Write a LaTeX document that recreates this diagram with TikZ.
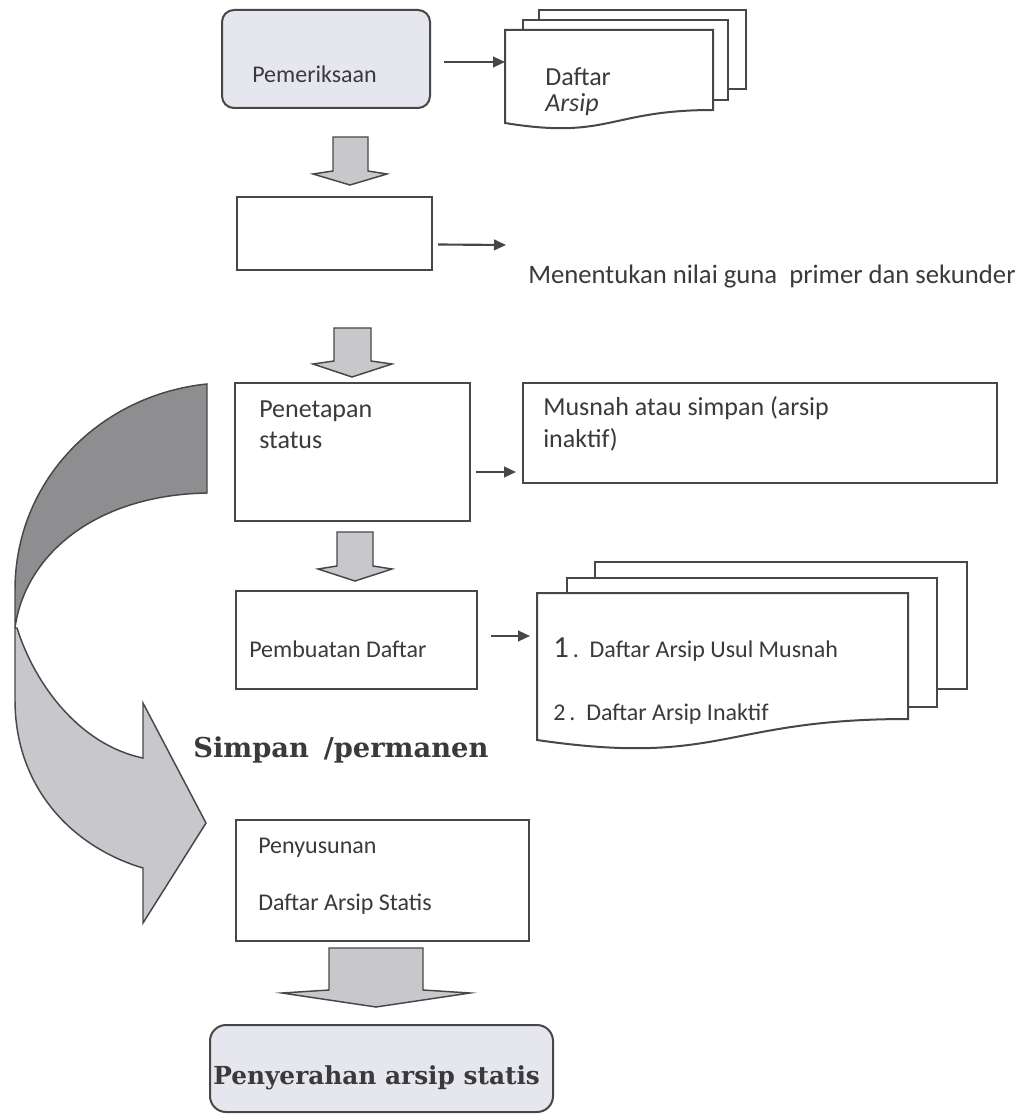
\documentclass[tikz,border=0pt]{standalone}
\usepackage{fontspec}
\newfontfamily\calib{Carlito}
\newfontfamily\bserif{DejaVu Serif}
\usetikzlibrary{arrows.meta,fit,calc}
\definecolor{lc}{HTML}{474747}
\definecolor{tc}{HTML}{3A3A3A}
\definecolor{lav}{HTML}{E6E6EE}
\definecolor{bf}{HTML}{C8C8CC}
\definecolor{dk}{HTML}{8E8E90}
\begin{document}
\begin{tikzpicture}[x=0.75pt,y=-0.75pt,
  box/.style={draw=lc,line width=1.5pt,inner sep=0pt,fill=white},
  rbox/.style={box,rounded corners=9pt,fill=lav},
  page/.style={draw=lc,line width=1.5pt,fill=white},
  txt/.style={font=\calib\fontsize{18}{22}\selectfont,text=tc,inner sep=0pt,anchor=base west},
  txtl/.style={txt,font=\calib\fontsize{19.5}{24}\selectfont},
  btxt/.style={font=\bserif\bfseries\fontsize{18.6}{22}\selectfont,text=tc,inner sep=0pt,anchor=base west},
  arr/.style={draw=lc,line width=1.6pt,-{Triangle[length=9pt,width=8pt]}},
  blk/.style={draw=lc,line width=1.1pt,fill=bf,line join=miter},
  curv/.style={draw=lc,line width=1.1pt}]
\useasboundingbox[fill=white] (0,0) rectangle (1029,1119);

% curved arrow (Simpan / permanen)
\path[curv,fill=dk] (207,384) .. controls (100,395) and (15,480) .. (15,590) -- (15,628)
  .. controls (25,555) and (95,495) .. (207,493) -- cycle;
\path[curv,fill=bf] (15,628) -- (15,700) .. controls (15,790) and (75,848) .. (143,868)
  -- (143,923) -- (206,823) -- (143,703) -- (143,758)
  .. controls (80,745) and (35,685) .. (17,628) -- cycle;

% boxes
\node[rbox,fit={(222,10)(430,108)}] (pem) {};
\node[box,fit={(237,197)(432,270)}] (nilai) {};
\node[box,fit={(235,383)(470,521)}] (pen) {};
\node[box,fit={(523,383)(997,483)}] (mus) {};
\node[box,fit={(236,591)(477,689)}] (pemb) {};
\node[box,fit={(236,820)(529,941)}] (peny) {};
\node[rbox,rounded corners=12pt,fit={(210,1025)(553,1112)}] (pser) {};

% document stack 1
\draw[page] (539,10) rectangle (746,89);
\draw[page] (523,20) rectangle (728,100);
\draw[page] (505,30) -- (713,30) -- (713,110) .. controls (609,110) and (609,140) .. (505,123) -- cycle;
\node[fit={(505,30)(713,123)},inner sep=0pt] (doc1) {};
\coordinate (d1in) at (505,62);

% document stack 2
\draw[page] (595,562) rectangle (967,689);
\draw[page] (567,578) rectangle (937,707);
\draw[page] (537,593) -- (908,593) -- (908,719) .. controls (722,719) and (722,767) .. (537,740) -- cycle;
\node[fit={(537,593)(908,740)},inner sep=0pt] (doc2) {};
\coordinate (d2in) at (530,636);

% texts
\node[txt] (tpem) at (252,83) {Pemeriksaan};
\node[txtl] (tdaf) at (545,86) {Daftar};
\node[txtl] (tars) at (545,112) {\itshape Arsip};
\node[txt,font=\calib\fontsize{20}{24}\selectfont] (tmen) at (528,284) {Menentukan nilai guna\ \ primer dan sekunder};
\node[txtl] (tpen1) at (259,417) {Penetapan};
\node[txtl] (tpen2) at (259,448) {status};
\node[txtl] (tmus1) at (543,415) {Musnah atau simpan (arsip};
\node[txtl] (tmus2) at (543,447) {inaktif)};
\node[txt] (tpemb) at (249,657) {Pembuatan Daftar};
\node[txt] (tl1) at (553,657) {{\fontsize{23}{24}\selectfont 1}\,.\ \ Daftar Arsip Usul Musnah};
\node[txt] (tl2) at (553,720) {2\,.\ \ Daftar Arsip Inaktif};
\node[btxt,font=\bserif\bfseries\fontsize{20.5}{24}\selectfont] (tsim) at (193,757) {Simpan\hspace{4pt} /permanen};
\node[txt] (tpeny1) at (258,853) {Penyusunan};
\node[txt] (tpeny2) at (258,910) {Daftar Arsip Statis};
\node[btxt] (tpser) at (213,1084) {Penyerahan arsip statis};

% small arrows
\coordinate (nilaiend) at (506,245);
\coordinate (musin) at (516,472);
\draw[arr] (pem.east) ++(13,3) -- (d1in);
\draw[arr] (nilai.east) ++(5,11) -- (nilaiend);
\draw[arr] (pen.east) ++(5,20) -- (musin);
\draw[arr] (pemb.east) ++(13,-4) -- (d2in);

% block arrows
\draw[blk] (333,137) -- (368,137) -- (368,171) -- (387,174) -- (350,185) -- (313,174) -- (333,171) -- cycle;
\draw[blk] (334,328) -- (371,328) -- (371,361) -- (392,364) -- (352,377) -- (313,364) -- (334,361) -- cycle;
\draw[blk] (337,532) -- (373,532) -- (373,566) -- (392,569) -- (355,581) -- (318,569) -- (337,566) -- cycle;
\draw[blk] (329,948) -- (423,948) -- (423,990) -- (470,993) -- (376,1007) -- (282,993) -- (329,990) -- cycle;
\end{tikzpicture}
\end{document}
